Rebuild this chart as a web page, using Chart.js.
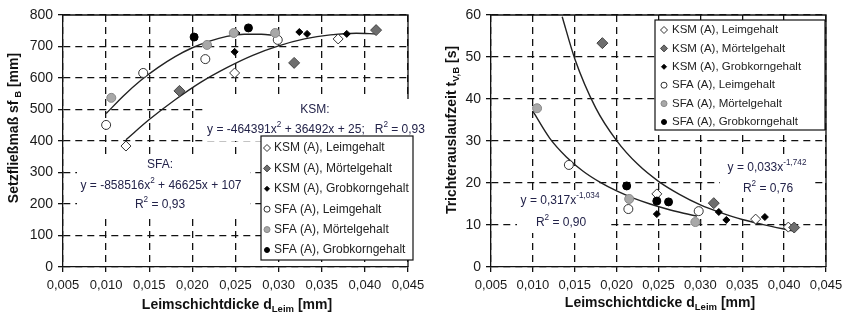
<!DOCTYPE html>
<html>
<head>
<meta charset="utf-8">
<script src="https://cdn.jsdelivr.net/npm/chart.js@4.4.0/dist/chart.umd.min.js"></script>
<style>
  body { margin: 0; background: #fff; }
  canvas { position: absolute; top: 0; }
  #left { left: 0; }
  #right { left: 420px; }
</style>
</head>
<body>
<canvas id="left" width="440" height="320"></canvas>
<canvas id="right" width="429" height="320"></canvas>
<script>
// series labels
const seriesLabels = ['KSM (A), Leimgehalt', 'KSM (A), Mörtelgehalt', 'KSM (A), Grobkorngehalt',
  'SFA (A), Leimgehalt', 'SFA (A), Mörtelgehalt', 'SFA (A), Grobkorngehalt'];

// left chart: Setzfließmaß [mm] over Leimschichtdicke [mm]
const ksmLeimSf = [[0.0123, 384], [0.0249, 616], [0.0369, 724]];
const ksmMoertelSf = [[0.0185, 559], [0.0318, 648], [0.0413, 752]];
const ksmGrobSf = [[0.0249, 683], [0.0251, 743], [0.0324, 746], [0.0333, 740], [0.0379, 740]];
const sfaLeimSf = [[0.0100, 451], [0.0143, 616], [0.0215, 660], [0.0299, 721]];
const sfaMoertelSf = [[0.0106, 537], [0.0217, 705], [0.0248, 743], [0.0296, 743]];
const sfaGrobSf = [[0.0202, 730], [0.0265, 759]];

// trend curves
const ksmFitSfX = [0.0123, 0.015, 0.018, 0.021, 0.024, 0.027, 0.030, 0.033, 0.036, 0.039, 0.0413];
const ksmFitSfY = [404, 468, 531, 587, 633, 672, 702, 724, 737, 742, 740];
const sfaFitSfX = [0.010, 0.012, 0.014, 0.016, 0.018, 0.020, 0.022, 0.024, 0.026, 0.028, 0.0296];
const sfaFitSfY = [487, 543, 592, 633, 668, 696, 717, 732, 739, 739, 735];

// right chart: Trichterauslaufzeit [s]
const ksmLeimT = [[0.0248, 17.4], [0.0366, 11.4], [0.0405, 9.5]];
const ksmMoertelT = [[0.0183, 53.3], [0.0316, 15.2], [0.0412, 9.4]];
const ksmGrobT = [[0.0248, 12.6], [0.0322, 13.1], [0.0331, 11.2], [0.0377, 11.9]];
const sfaLeimT = [[0.0143, 24.3], [0.0214, 13.8], [0.0298, 13.3]];
const sfaMoertelT = [[0.0105, 37.8], [0.0215, 16.2], [0.0294, 10.7]];
const sfaGrobT = [[0.0212, 19.3], [0.0248, 15.7], [0.0262, 15.5]];

const ksmFitTX = [0.0135, 0.015, 0.0175, 0.020, 0.0225, 0.025, 0.0275, 0.030, 0.0325, 0.035, 0.0375, 0.041];
const ksmFitTY = [59.6, 49.6, 37.9, 30.1, 24.5, 20.4, 17.3, 14.8, 12.9, 11.3, 10.1, 8.6];
const sfaFitTX = [0.010, 0.012, 0.014, 0.016, 0.018, 0.020, 0.022, 0.024, 0.026, 0.028, 0.0296];
const sfaFitTY = [37.1, 30.7, 26.2, 22.8, 20.2, 18.1, 16.4, 15.0, 13.8, 12.8, 12.1];

// axes
const xMin = 0.005, xMax = 0.045, xStep = 0.005;
const sfMax = 800, sfStep = 100;
const tMax = 60, tStep = 10;

const FONT = '"Liberation Sans", Arial, sans-serif';
Chart.defaults.font.family = FONT;
Chart.defaults.color = '#1a1a1a';

const styles = [
  { pointStyle: 'rectRot', backgroundColor: '#fff', borderColor: '#333', radius: 5, legendR: 3.5 },
  { pointStyle: 'rectRot', backgroundColor: '#6e6e6e', borderColor: '#444', radius: 5.5, legendR: 3.5 },
  { pointStyle: 'rectRot', backgroundColor: '#000', borderColor: '#000', radius: 3.5, legendR: 2.5 },
  { pointStyle: 'circle', backgroundColor: '#fff', borderColor: '#333', radius: 4.5, legendR: 3 },
  { pointStyle: 'circle', backgroundColor: '#a8a8a8', borderColor: '#888', radius: 4.5, legendR: 3 },
  { pointStyle: 'circle', backgroundColor: '#000', borderColor: '#000', radius: 4, legendR: 2.5 }
];

const pts = arr => arr.map(p => ({ x: p[0], y: p[1] }));
const curve = (xs, ys) => xs.map((x, i) => ({ x: x, y: ys[i] }));

function scatterSets(series) {
  return series.map((s, i) => ({
    label: seriesLabels[i],
    data: pts(s),
    pointStyle: styles[i].pointStyle,
    backgroundColor: styles[i].backgroundColor,
    borderColor: styles[i].borderColor,
    borderWidth: 1,
    pointRadius: styles[i].radius,
    showLine: false,
    order: 5 - i
  }));
}

function fitSet(xs, ys) {
  return {
    label: 'fit',
    data: curve(xs, ys),
    showLine: true,
    pointRadius: 0,
    borderColor: '#222',
    borderWidth: 1.4,
    cubicInterpolationMode: 'monotone',
    order: 20
  };
}

// text pieces: [text, kind] kind '' | 'sup' | 'sub'
function pieceFont(kind, size, bold) {
  const s = kind ? size * 0.68 : size;
  return (bold ? 'bold ' : '') + s + 'px ' + FONT;
}
function measure(ctx, parts, size, bold) {
  let w = 0;
  parts.forEach(([t, k]) => { ctx.font = pieceFont(k, size, bold); w += ctx.measureText(t).width; });
  return w;
}
function drawParts(ctx, parts, cx, cy, size, bold, color) {
  let x = cx - measure(ctx, parts, size, bold) / 2;
  ctx.fillStyle = color;
  ctx.textAlign = 'left';
  ctx.textBaseline = 'middle';
  parts.forEach(([t, k]) => {
    ctx.font = pieceFont(k, size, bold);
    const dy = k === 'sup' ? -size * 0.42 : k === 'sub' ? size * 0.3 : 0;
    ctx.fillText(t, x, cy + dy);
    x += ctx.measureText(t).width;
  });
}

const decor = {
  id: 'decor',
  beforeDatasetsDraw(chart) {
    const ctx = chart.ctx, a = chart.chartArea, o = chart.options.plugins.decor;
    ctx.save();
    ctx.strokeStyle = '#111';
    ctx.lineWidth = 1.3;
    ctx.beginPath();
    ctx.moveTo(a.left, a.top); ctx.lineTo(a.right, a.top); ctx.lineTo(a.right, a.bottom);
    ctx.stroke();

    // equation boxes
    o.notes.forEach(n => {
      ctx.fillStyle = '#fff';
      ctx.fillRect(n.box[0], n.box[1], n.box[2] - n.box[0], n.box[3] - n.box[1]);
      n.lines.forEach(l => drawParts(ctx, l.parts, l.x, l.y, 12, false, '#23234a'));
    });

    // legend
    const L = o.legend;
    ctx.fillStyle = '#fff';
    ctx.fillRect(L.box[0], L.box[1], L.box[2] - L.box[0], L.box[3] - L.box[1]);
    ctx.strokeStyle = '#111';
    ctx.lineWidth = 1.2;
    ctx.strokeRect(L.box[0], L.box[1], L.box[2] - L.box[0], L.box[3] - L.box[1]);
    seriesLabels.forEach((lab, i) => {
      const y = L.y0 + i * L.step;
      ctx.fillStyle = styles[i].backgroundColor;
      ctx.strokeStyle = styles[i].borderColor;
      ctx.lineWidth = 1;
      Chart.helpers.drawPoint(ctx, { pointStyle: styles[i].pointStyle, radius: styles[i].legendR, rotation: 0, borderWidth: 1 }, L.mx, y);
      ctx.fillStyle = '#222';
      ctx.font = L.size + 'px ' + FONT;
      ctx.textAlign = 'left';
      ctx.textBaseline = 'middle';
      ctx.fillText(lab, L.tx, y);
    });
    ctx.restore();
  },
  afterDraw(chart) {
    const ctx = chart.ctx, o = chart.options.plugins.decor;
    ctx.save();
    drawParts(ctx, o.xTitle.parts, o.xTitle.x, o.xTitle.y, 14, true, '#111');
    ctx.translate(o.yTitle.x, o.yTitle.y);
    ctx.rotate(-Math.PI / 2);
    drawParts(ctx, o.yTitle.parts, 0, 0, 14, true, '#111');
    ctx.restore();
  }
};

const fmt = v => v.toFixed(3).replace('.', ',');

function makeChart(id, datasets, yMax, yStep, axisW, padRight, decorOpts) {
  const gridOpts = { color: '#111', lineWidth: 1.3, tickLength: 5, tickColor: '#111', tickWidth: 1.3 };
  const borderOpts = { dash: [7, 5], color: '#111', width: 1.3 };
  return new Chart(document.getElementById(id), {
    type: 'scatter',
    data: { datasets: datasets },
    options: {
      responsive: false,
      animation: false,
      layout: { padding: { left: 0, right: padRight, top: 15, bottom: 0 } },
      plugins: { legend: { display: false }, tooltip: { enabled: false }, decor: decorOpts },
      scales: {
        x: {
          type: 'linear', min: xMin, max: xMax,
          ticks: { stepSize: xStep, callback: fmt, font: { size: 13 }, padding: 6, maxRotation: 0, autoSkip: false },
          grid: gridOpts, border: borderOpts,
          afterFit: s => { s.height = 53; }
        },
        y: {
          min: 0, max: yMax,
          ticks: { stepSize: yStep, font: { size: 14 }, padding: 5 },
          grid: gridOpts, border: borderOpts,
          afterFit: s => { s.width = axisW; }
        }
      }
    },
    plugins: [decor]
  });
}

const xTitleParts = [['Leimschichtdicke d', ''], ['Leim', 'sub'], [' [mm]', '']];

makeChart('left',
  [...scatterSets([ksmLeimSf, ksmMoertelSf, ksmGrobSf, sfaLeimSf, sfaMoertelSf, sfaGrobSf]),
   fitSet(ksmFitSfX, ksmFitSfY), fitSet(sfaFitSfX, sfaFitSfY)],
  sfMax, sfStep, 63, 32, {
    notes: [
      { box: [203, 99, 432, 141], lines: [
        { x: 315, y: 110, parts: [['KSM:', '']] },
        { x: 316, y: 130, parts: [['y = -464391x', ''], ['2', 'sup'], [' + 36492x + 25;   R', ''], ['2', 'sup'], [' = 0,93', '']] }
      ] },
      { box: [77, 156, 250, 214], lines: [
        { x: 160, y: 165, parts: [['SFA:', '']] },
        { x: 161, y: 186, parts: [['y = -858516x', ''], ['2', 'sup'], [' + 46625x + 107', '']] },
        { x: 160, y: 205, parts: [['R', ''], ['2', 'sup'], [' = 0,93', '']] }
      ] }
    ],
    legend: { box: [261, 136, 413, 260], y0: 148, step: 20.4, mx: 267, tx: 274, size: 12 },
    xTitle: { x: 237, y: 305, parts: xTitleParts },
    yTitle: { x: 14, y: 128, parts: [['Setzfließmaß sf', ''], [' B', 'sub'], [' [mm]', '']] }
  });

makeChart('right',
  [...scatterSets([ksmLeimT, ksmMoertelT, ksmGrobT, sfaLeimT, sfaMoertelT, sfaGrobT]),
   fitSet(ksmFitTX, ksmFitTY), fitSet(sfaFitTX, sfaFitTY)],
  tMax, tStep, 71, 23, {
    notes: [
      { box: [300, 155, 395, 198], lines: [
        { x: 347, y: 168, parts: [['y = 0,033x', ''], ['-1,742', 'sup']] },
        { x: 348, y: 189, parts: [['R', ''], ['2', 'sup'], [' = 0,76', '']] }
      ] },
      { box: [97, 190, 187, 233], lines: [
        { x: 140, y: 201, parts: [['y = 0,317x', ''], ['-1,034', 'sup']] },
        { x: 141, y: 223, parts: [['R', ''], ['2', 'sup'], [' = 0,90', '']] }
      ] }
    ],
    legend: { box: [235, 20, 405, 130], y0: 30, step: 18.4, mx: 244, tx: 252, size: 11.5 },
    xTitle: { x: 240, y: 303, parts: xTitleParts },
    yTitle: { x: 32, y: 130, parts: [['Trichterauslaufzeit t', ''], ['V,B', 'sub'], [' [s]', '']] }
  });
</script>
</body>
</html>
